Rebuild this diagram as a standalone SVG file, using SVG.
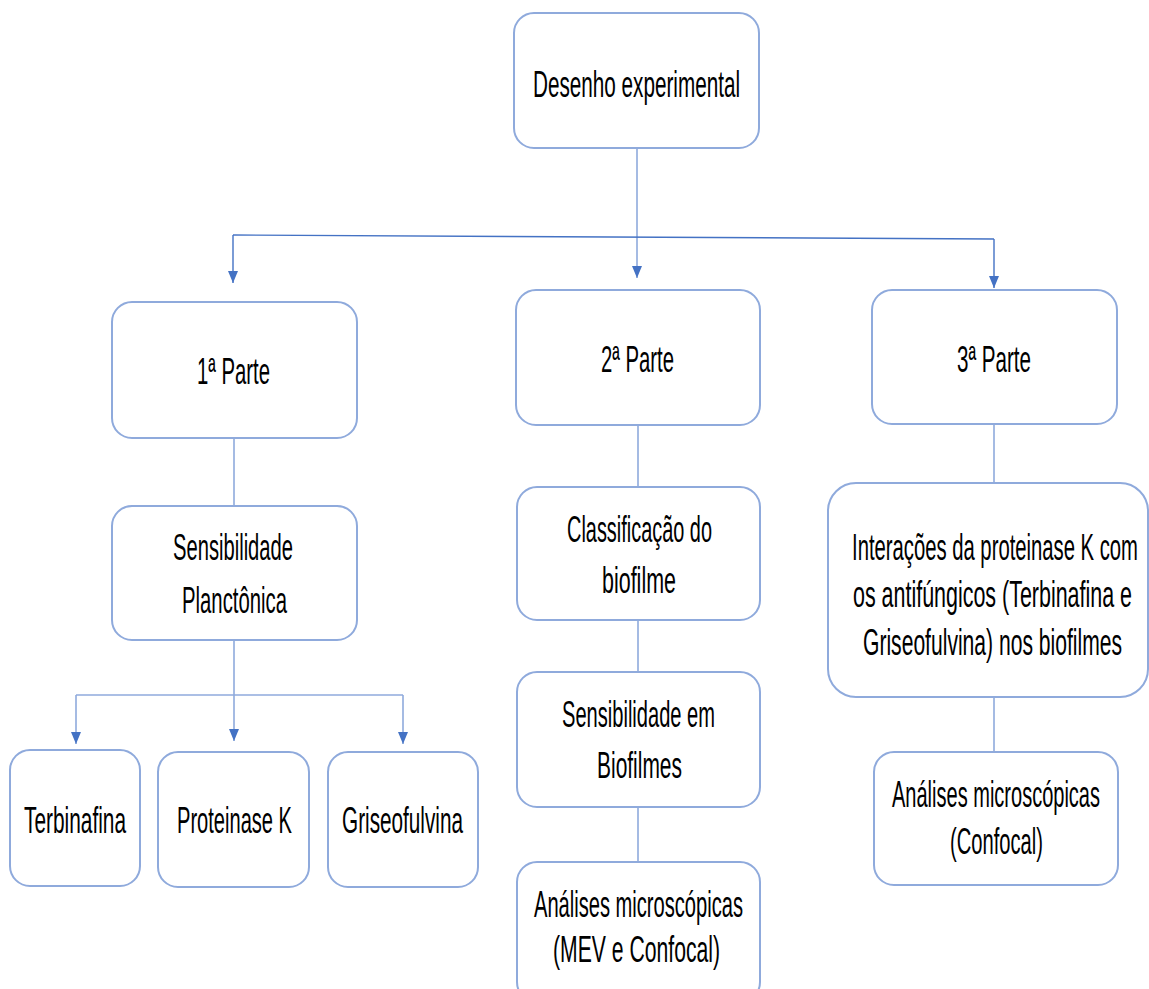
<svg xmlns="http://www.w3.org/2000/svg" width="1149" height="989" viewBox="0 0 1149 989">
<style>
.box{fill:#ffffff;stroke:#8FAADC;stroke-width:2}
.t{font-family:"Liberation Sans",Arial,sans-serif;font-size:37px;fill:#000000}
.ln{stroke:#8FAADC;stroke-width:1.6;fill:none}
.ld{stroke:#4472C4;stroke-width:1.4;fill:none}
</style>
<defs>
<marker id="ah" markerUnits="userSpaceOnUse" markerWidth="12" markerHeight="10" refX="12" refY="5" orient="auto">
<path d="M0,0 L12,5 L0,10 z" fill="#4472C4"/>
</marker>
</defs>
<rect width="1149" height="989" fill="#ffffff"/>
<g id="connectors">
<line class="ln" x1="637" y1="148" x2="637" y2="278" marker-end="url(#ah)"/>
<line class="ld" x1="233" y1="235" x2="994" y2="239"/>
<line class="ld" x1="233" y1="235" x2="233" y2="283" marker-end="url(#ah)"/>
<line class="ld" x1="994" y1="239" x2="994" y2="288" marker-end="url(#ah)"/>
<line class="ln" x1="234" y1="437" x2="234" y2="506"/>
<line class="ln" x1="234" y1="640" x2="234" y2="741" marker-end="url(#ah)"/>
<line class="ln" x1="76" y1="695" x2="403" y2="695"/>
<line class="ln" x1="76" y1="695" x2="76" y2="744" marker-end="url(#ah)"/>
<line class="ln" x1="403" y1="695" x2="403" y2="744" marker-end="url(#ah)"/>
<line class="ln" x1="638" y1="425" x2="638" y2="487"/>
<line class="ln" x1="638" y1="620" x2="638" y2="672"/>
<line class="ln" x1="638" y1="807" x2="638" y2="862"/>
<line class="ln" x1="994" y1="424" x2="994" y2="483"/>
<line class="ln" x1="994" y1="697" x2="994" y2="752"/>
</g>
<g id="n-desenho">
<rect class="box" x="514" y="13" width="245" height="135" rx="20"/>
<text class="t" x="533" y="97" textLength="207" lengthAdjust="spacingAndGlyphs">Desenho experimental</text>
</g>
<g id="n-parte1">
<rect class="box" x="112" y="302" width="245" height="136" rx="20"/>
<text class="t" x="197" y="384" textLength="73" lengthAdjust="spacingAndGlyphs">1ª Parte</text>
</g>
<g id="n-parte2">
<rect class="box" x="516" y="290" width="244" height="135" rx="20"/>
<text class="t" x="601" y="372" textLength="73" lengthAdjust="spacingAndGlyphs">2ª Parte</text>
</g>
<g id="n-parte3">
<rect class="box" x="872" y="290" width="245" height="134" rx="20"/>
<text class="t" x="957" y="372" textLength="74" lengthAdjust="spacingAndGlyphs">3ª Parte</text>
</g>
<g id="n-planctonica">
<rect class="box" x="112" y="506" width="245" height="134" rx="20"/>
<text class="t" x="173" y="560" textLength="120" lengthAdjust="spacingAndGlyphs">Sensibilidade</text>
<text class="t" x="182" y="613" textLength="105" lengthAdjust="spacingAndGlyphs">Planctônica</text>
</g>
<g id="n-terbinafina">
<rect class="box" x="10" y="750" width="130" height="136" rx="20"/>
<text class="t" x="24" y="833" textLength="102" lengthAdjust="spacingAndGlyphs">Terbinafina</text>
</g>
<g id="n-proteinase">
<rect class="box" x="158" y="752" width="151" height="135" rx="20"/>
<text class="t" x="177" y="833" textLength="115" lengthAdjust="spacingAndGlyphs">Proteinase K</text>
</g>
<g id="n-griseofulvina">
<rect class="box" x="328" y="752" width="150" height="135" rx="20"/>
<text class="t" x="342" y="833" textLength="121" lengthAdjust="spacingAndGlyphs">Griseofulvina</text>
</g>
<g id="n-classificacao">
<rect class="box" x="517" y="487" width="243" height="133" rx="20"/>
<text class="t" x="567" y="542" textLength="145" lengthAdjust="spacingAndGlyphs">Classificação do</text>
<text class="t" x="602" y="593" textLength="74" lengthAdjust="spacingAndGlyphs">biofilme</text>
</g>
<g id="n-sens-biofilmes">
<rect class="box" x="517" y="672" width="243" height="135" rx="20"/>
<text class="t" x="562" y="727" textLength="153" lengthAdjust="spacingAndGlyphs">Sensibilidade em</text>
<text class="t" x="597" y="778" textLength="85" lengthAdjust="spacingAndGlyphs">Biofilmes</text>
</g>
<g id="n-analises-mev">
<rect class="box" x="517" y="862" width="243" height="140" rx="20"/>
<text class="t" x="534" y="917" textLength="209" lengthAdjust="spacingAndGlyphs">Análises microscópicas</text>
<text class="t" x="553" y="962" textLength="167" lengthAdjust="spacingAndGlyphs">(MEV e Confocal)</text>
</g>
<g id="n-interacoes">
<rect class="box" x="828" y="483" width="320" height="214" rx="28"/>
<text class="t" x="852" y="560" textLength="286" lengthAdjust="spacingAndGlyphs">Interações da proteinase K com</text>
<text class="t" x="853" y="607" textLength="279" lengthAdjust="spacingAndGlyphs">os antifúngicos (Terbinafina e</text>
<text class="t" x="863" y="655" textLength="259" lengthAdjust="spacingAndGlyphs">Griseofulvina) nos biofilmes</text>
</g>
<g id="n-analises-confocal">
<rect class="box" x="874" y="752" width="244" height="133" rx="20"/>
<text class="t" x="892" y="807" textLength="208" lengthAdjust="spacingAndGlyphs">Análises microscópicas</text>
<text class="t" x="950" y="854" textLength="93" lengthAdjust="spacingAndGlyphs">(Confocal)</text>
</g>
</svg>
